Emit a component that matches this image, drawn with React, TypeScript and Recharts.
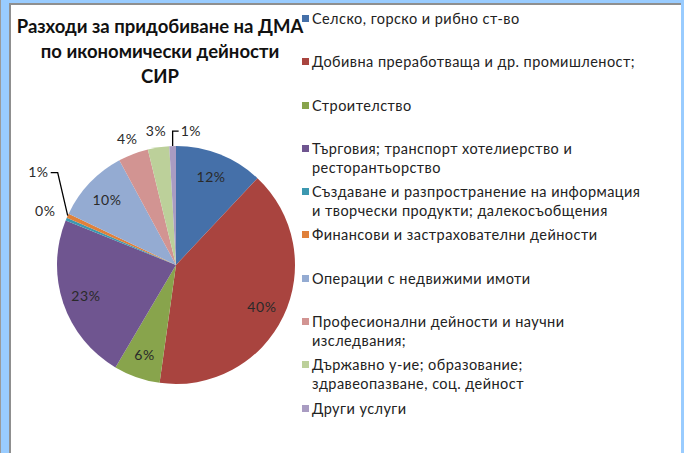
import { PieChart, Pie, Cell, Legend } from 'recharts'

const categories = [
    'Селско, горско и рибно ст-во',
    'Добивна преработваща и др. промишленост;',
    'Строителство',
    'Търговия; транспорт хотелиерство и\nресторантьорство',
    'Създаване и разпространение на информация\nи творчески продукти; далекосъобщения',
    'Финансови и застрахователни дейности',
    'Операции с недвижими имоти',
    'Професионални дейности и научни\nизследвания;',
    'Държавно у-ие; образование;\nздравеопазване, соц. дейност',
    'Други услуги',
]

const shares = [12.0, 40.2, 6.3, 22.6, 0.4, 0.6, 10.0, 4.1, 2.9, 0.9]

const colors = [
    '#4570a9', '#a9443f', '#88a44c', '#6f5590', '#3c98b0',
    '#e0803a', '#94abd2', '#d29492', '#bcd09a', '#a99cc2',
]

// where each percent label goes: inside, outside, further out, or with a leader line (left / right)
const labelModes = ['in', 'in', 'in', 'in', 'far', 'leadL', 'in', 'out', 'out', 'leadR']

const data = categories.map((name, i) => ({ name, value: shares[i] }))

const RAD = Math.PI / 180
const FONT = 'Lato, "Open Sans", sans-serif'
const labelStyle = { fontSize: 14, letterSpacing: 0.6, fill: '#2a2a2a', fontFamily: FONT }

function renderLabel(p: any) {
    const { cx, cy, midAngle, outerRadius, percent, index } = p
    const text = `${Math.round(percent * 100)}%`
    const cos = Math.cos(-midAngle * RAD)
    const sin = Math.sin(-midAngle * RAD)
    const mode = labelModes[index]
    if (mode === 'leadL') {
        const ex = cx + outerRadius * cos
        const ey = cy + outerRadius * sin
        const kx = ex - 10
        const ky = ey - 43
        return (
            <g>
                <path d={`M${ex},${ey} L${kx},${ky} L${kx - 7},${ky}`} stroke="#000" strokeWidth={1.3} fill="none" />
                <text x={kx - 9} y={ky - 1} textAnchor="end" dominantBaseline="central" style={labelStyle}>{text}</text>
            </g>
        )
    }
    if (mode === 'leadR') {
        const ex = cx + outerRadius * cos
        const ey = cy + outerRadius * sin
        const ky = ey - 15
        return (
            <g>
                <path d={`M${ex},${ey} L${ex},${ky} L${ex + 6},${ky}`} stroke="#000" strokeWidth={1.3} fill="none" />
                <text x={ex + 8} y={ky - 1} textAnchor="start" dominantBaseline="central" style={labelStyle}>{text}</text>
            </g>
        )
    }
    const k = mode === 'in' ? 0.8 : mode === 'far' ? 1.19 : 1.14
    const r = outerRadius * k
    return (
        <text x={cx + r * cos} y={cy + r * sin} textAnchor="middle" dominantBaseline="central" style={labelStyle}>
            {text}
        </text>
    )
}

function renderLegend() {
    return (
        <div style={{ fontFamily: FONT, fontSize: 14.5, letterSpacing: 0.45, color: '#222' }}>
            {categories.map((name, i) => (
                <div key={i} style={{ height: 43.3, display: 'flex', alignItems: 'flex-start' }}>
                    <span style={{ width: 7, height: 7, background: colors[i], marginTop: 6, marginRight: 3, flex: 'none' }} />
                    <span style={{ whiteSpace: 'pre-line', lineHeight: '19px' }}>{name}</span>
                </div>
            ))}
        </div>
    )
}

export default function App() {
    return (
        <div style={{ position: 'absolute', left: 0, top: 0, width: 684, height: 453, background: '#99ccff', overflow: 'hidden' }}>
            <div style={{ position: 'absolute', left: 0, top: 0, width: 1, height: 453, background: '#9a9a9a' }} />
            <div style={{ position: 'absolute', left: 9, top: 3, width: 672, height: 450, background: '#8f8f8f' }} />
            <div style={{ position: 'absolute', left: 11, top: 5, width: 670, height: 448, background: '#fff' }} />
            <div style={{ position: 'absolute', left: 10, top: 14, width: 300, textAlign: 'center', fontFamily: FONT, fontWeight: 700, fontSize: 18.5, lineHeight: '25px', color: '#111' }}>
                Разходи за придобиване на ДМА<br />по икономически дейности<br />СИР
            </div>
            <div style={{ position: 'absolute', left: 0, top: 0 }}>
                <PieChart width={684} height={453}>
                    <Pie
                        data={data}
                        dataKey="value"
                        nameKey="name"
                        cx={171}
                        cy={260}
                        outerRadius={119}
                        startAngle={90}
                        endAngle={-270}
                        stroke="none"
                        label={renderLabel}
                        labelLine={false}
                        isAnimationActive={false}
                    >
                        {data.map((d, i) => (
                            <Cell key={d.name} fill={colors[i]} />
                        ))}
                    </Pie>
                    <Legend
                        layout="vertical"
                        verticalAlign="top"
                        align="right"
                        content={renderLegend}
                        wrapperStyle={{ left: 302, top: 9, width: 380 }}
                    />
                </PieChart>
            </div>
        </div>
    )
}
